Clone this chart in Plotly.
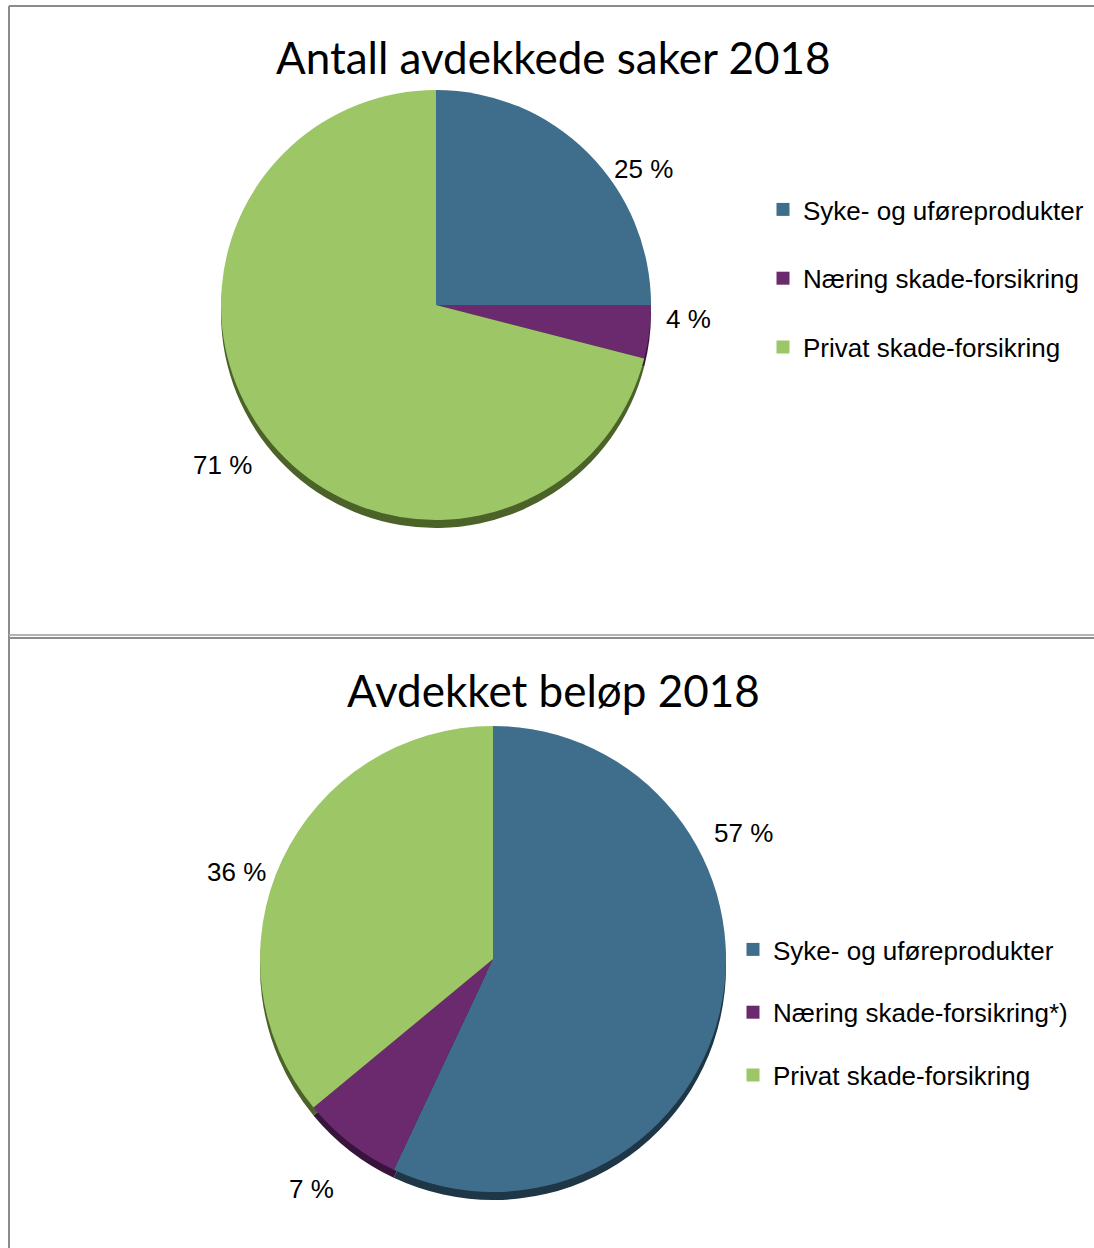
import plotly.graph_objects as go

W, H = 1094, 1248

categories = ["Syke- og uføreprodukter", "Næring skade-forsikring", "Privat skade-forsikring"]
categories_belop = ["Syke- og uføreprodukter", "Næring skade-forsikring*)", "Privat skade-forsikring"]
saker_pct = [25, 4, 71]
belop_pct = [57, 7, 36]

colors = ["#3F6E8D", "#6C2A6E", "#9DC667"]
shadow_colors = ["#1E3646", "#38133B", "#4B6328"]

# where the old chart put its data labels (pixel centres), Excel "best fit" style
label_pos_saker = [(643, 169), (688, 319), (222, 465)]
label_pos_belop = [(743, 833), (312, 1189), (236, 872)]

FONT = "Liberation Sans, Arial, sans-serif"


def px_domain(cx, cy, r, dy=0):
    # convert a pixel centre/radius into a paper domain
    return dict(
        x=[(cx - r) / W, (cx + r) / W],
        y=[1 - (cy + r + dy) / H, 1 - (cy - r + dy) / H],
    )


def pie_pair(labels, values, cx, cy, r):
    shadow = go.Pie(
        labels=labels, values=values, sort=False, direction="clockwise",
        rotation=0, marker=dict(colors=shadow_colors, line=dict(width=0)),
        textinfo="none", hoverinfo="skip", showlegend=False,
        domain=px_domain(cx, cy, r, dy=8),
    )
    face = go.Pie(
        labels=labels, values=values, sort=False, direction="clockwise",
        rotation=0, marker=dict(colors=colors, line=dict(width=0)),
        textinfo="none", showlegend=False,
        hovertemplate="%{label}: %{value} %<extra></extra>",
        domain=px_domain(cx, cy, r),
    )
    return [shadow, face]


fig = go.Figure()
for t in pie_pair(categories, saker_pct, 436, 305, 215):
    fig.add_trace(t)
for t in pie_pair(categories_belop, belop_pct, 493, 959, 233):
    fig.add_trace(t)

# data labels
for vals, pos in [(saker_pct, label_pos_saker), (belop_pct, label_pos_belop)]:
    for v, (x, y) in zip(vals, pos):
        fig.add_annotation(
            text=f"{v} %", x=x / W, y=1 - y / H, xref="paper", yref="paper",
            xanchor="center", yanchor="middle", showarrow=False,
            font=dict(family=FONT, size=26, color="#000000"),
        )

# legend entries (dummy traces so the items can be spaced apart)
for i, name in enumerate(categories):
    fig.add_trace(go.Scatter(
        x=[None], y=[None], mode="markers", name=name,
        marker=dict(symbol="square", size=13, color=colors[i]),
        legend="legend", legendgroup=f"a{i}",
    ))
for i, name in enumerate(categories_belop):
    fig.add_trace(go.Scatter(
        x=[None], y=[None], mode="markers", name=name,
        marker=dict(symbol="square", size=13, color=colors[i]),
        legend="legend2", legendgroup=f"b{i}",
    ))

titles = [("Antall avdekkede saker 2018", 57), ("Avdekket beløp 2018", 690)]
for text, y in titles:
    fig.add_annotation(
        text=text, x=554 / W, y=1 - y / H, xref="paper", yref="paper",
        xanchor="center", yanchor="middle", showarrow=False,
        font=dict(family="Lato, Carlito, sans-serif", size=44, color="#000000"),
    )

line = dict(color="#8C8C8C", width=2)
fig.add_shape(type="line", xref="paper", yref="paper", x0=9 / W, x1=1, y0=1 - 6 / H, y1=1 - 6 / H, line=line)
fig.add_shape(type="line", xref="paper", yref="paper", x0=9 / W, x1=9 / W, y0=0, y1=1 - 6 / H, line=line)
fig.add_shape(type="line", xref="paper", yref="paper", x0=9 / W, x1=1, y0=1 - 635 / H, y1=1 - 635 / H,
              line=dict(color="#B4B4B4", width=2))
fig.add_shape(type="line", xref="paper", yref="paper", x0=9 / W, x1=1, y0=1 - 638 / H, y1=1 - 638 / H, line=line)

legend_style = dict(
    font=dict(family=FONT, size=26, color="#000000"),
    bgcolor="rgba(0,0,0,0)", traceorder="grouped", itemwidth=30,
    xanchor="left", yanchor="top", itemclick=False,
)
fig.update_layout(
    width=W, height=H,
    margin=dict(l=0, r=0, t=0, b=0),
    paper_bgcolor="white", plot_bgcolor="white",
    xaxis=dict(visible=False), yaxis=dict(visible=False),
    legend=dict(x=763 / W, y=1 - 186 / H, tracegroupgap=32, **legend_style),
    legend2=dict(x=733 / W, y=1 - 926 / H, tracegroupgap=26, **legend_style),
)

fig.write_html("out.html", config={"displayModeBar": False},
               post_script="document.body.style.margin='0';")
